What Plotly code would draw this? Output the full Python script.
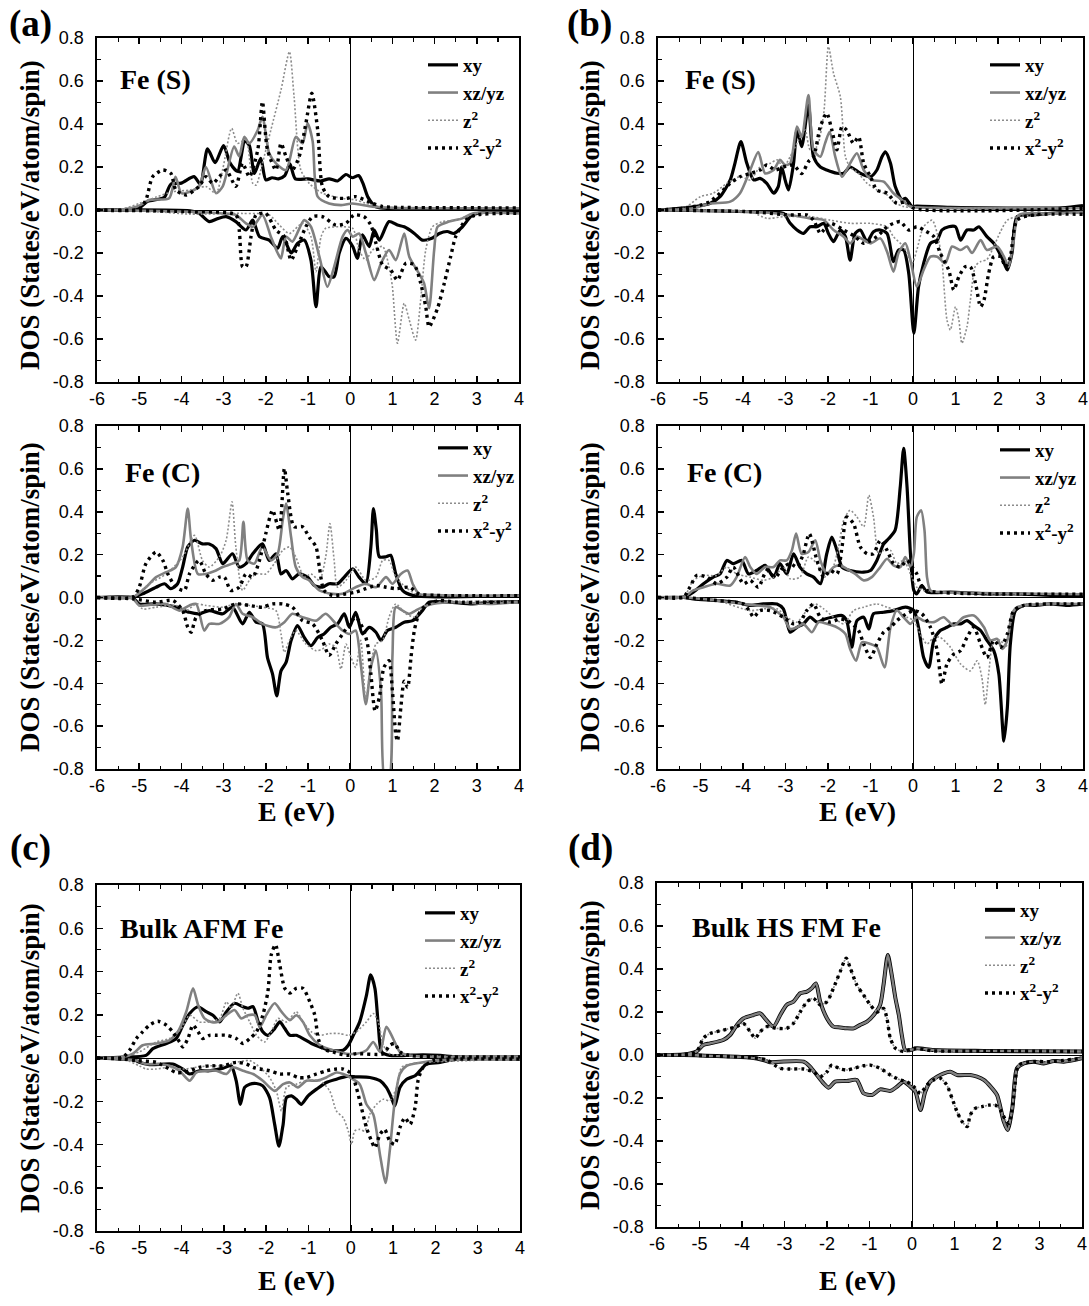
import plotly.graph_objects as go

W, H = 1089, 1306

# ---------------- tick labels / texts ----------------
x_tickvals = [-6, -5, -4, -3, -2, -1, 0, 1, 2, 3, 4]
x_ticktext = ['-6', '-5', '-4', '-3', '-2', '-1', '0', '1', '2', '3', '4']
y_tickvals = [-0.8, -0.6, -0.4, -0.2, 0.0, 0.2, 0.4, 0.6, 0.8]
y_ticktext = ['-0.8', '-0.6', '-0.4', '-0.2', '0.0', '0.2', '0.4', '0.6', '0.8']

orbital_names = ['<b>xy</b>', '<b>xz/yz</b>', '<b>z<sup>2</sup></b>', '<b>x<sup>2</sup>-y<sup>2</sup></b>']
panel_titles = ['Fe (S)', 'Fe (S)', 'Fe (C)', 'Fe (C)', 'Bulk AFM Fe', 'Bulk HS FM Fe']
panel_letters = ['(a)', '(b)', '(c)', '(d)']
y_title = 'DOS (States/eV/atom/spin)'
x_title = 'E (eV)'

# ---------------- data: (E [eV], DOS) ----------------
# Panel (a) top: Fe (S)
A_up_xy = [(-6,0),(-5.2,0.002),(-5.0,0.01),(-4.8,0.04),(-4.55,0.05),(-4.4,0.06),(-4.25,0.12),(-4.0,0.125),(-3.7,0.155),(-3.55,0.12),(-3.38,0.285),(-3.2,0.22),(-3.0,0.3),(-2.85,0.22),(-2.67,0.18),(-2.5,0.32),(-2.39,0.3),(-2.27,0.17),(-2.12,0.24),(-2.0,0.14),(-1.85,0.15),(-1.7,0.145),(-1.55,0.16),(-1.43,0.215),(-1.3,0.145),(-1.0,0.145),(-0.7,0.135),(-0.5,0.145),(-0.3,0.135),(-0.1,0.165),(0.05,0.15),(0.2,0.16),(0.3,0.125),(0.42,0.06),(0.6,0.016),(0.8,0.008),(1.5,0.005),(4,0.005)]
A_up_xzyz = [(-6,0),(-5.4,0.002),(-5.0,0.02),(-4.76,0.047),(-4.29,0.055),(-4.14,0.155),(-4.0,0.078),(-3.8,0.085),(-3.58,0.11),(-3.42,0.2),(-3.18,0.078),(-3.02,0.11),(-2.75,0.295),(-2.63,0.25),(-2.51,0.34),(-2.39,0.31),(-2.19,0.372),(-2.08,0.434),(-1.92,0.264),(-1.76,0.217),(-1.52,0.186),(-1.29,0.34),(-1.13,0.31),(-1.01,0.403),(-0.89,0.32),(-0.77,0.062),(-0.5,0.03),(-0.18,0.023),(0.05,0.03),(0.53,0.015),(1.0,0.01),(4,0.008)]
A_up_z2 = [(-6,0),(-5.4,0.005),(-5.0,0.03),(-4.6,0.06),(-4.2,0.085),(-3.8,0.093),(-3.42,0.109),(-3.18,0.078),(-3.02,0.19),(-2.81,0.38),(-2.67,0.31),(-2.47,0.326),(-2.31,0.124),(-2.23,0.116),(-2.08,0.217),(-1.88,0.372),(-1.64,0.558),(-1.44,0.736),(-1.33,0.527),(-1.17,0.186),(-0.97,0.124),(-0.66,0.078),(-0.18,0.054),(0.13,0.047),(0.37,0.031),(0.69,0.016),(1.2,0.01),(4,0.008)]
A_up_x2y2 = [(-6,0),(-5.0,0.005),(-4.84,0.047),(-4.68,0.155),(-4.44,0.186),(-4.25,0.17),(-4.13,0.093),(-3.89,0.07),(-3.58,0.11),(-3.42,0.155),(-3.26,0.124),(-3.1,0.155),(-2.94,0.186),(-2.71,0.11),(-2.55,0.217),(-2.39,0.155),(-2.19,0.28),(-2.08,0.504),(-1.96,0.28),(-1.76,0.186),(-1.64,0.31),(-1.52,0.248),(-1.37,0.186),(-1.21,0.248),(-1.05,0.403),(-0.91,0.543),(-0.77,0.372),(-0.66,0.11),(-0.5,0.062),(-0.1,0.054),(0.13,0.062),(0.53,0.031),(0.77,0.016),(1.2,0.012),(4,0.01)]
A_dn_xy = [(-6,0),(-3.8,-0.004),(-3.58,-0.015),(-3.34,-0.054),(-3.14,-0.04),(-2.94,-0.031),(-2.71,-0.054),(-2.47,-0.093),(-2.31,-0.047),(-2.15,-0.124),(-1.92,-0.14),(-1.72,-0.178),(-1.6,-0.124),(-1.4,-0.2),(-1.25,-0.155),(-1.09,-0.14),(-0.93,-0.233),(-0.81,-0.45),(-0.69,-0.264),(-0.5,-0.31),(-0.38,-0.31),(-0.26,-0.2),(-0.1,-0.132),(0.06,-0.17),(0.17,-0.225),(0.29,-0.116),(0.45,-0.17),(0.57,-0.093),(0.69,-0.14),(0.92,-0.054),(1.12,-0.07),(1.28,-0.078),(1.52,-0.109),(1.71,-0.14),(1.95,-0.13),(2.11,-0.109),(2.3,-0.1),(2.46,-0.109),(2.66,-0.078),(2.9,-0.023),(3.3,-0.008),(4,-0.008)]
A_dn_xzyz = [(-6,0),(-3.8,-0.008),(-3.02,-0.016),(-2.71,-0.023),(-2.47,-0.062),(-2.31,-0.078),(-2.08,-0.023),(-1.88,-0.124),(-1.72,-0.2),(-1.64,-0.225),(-1.52,-0.124),(-1.37,-0.147),(-1.09,-0.047),(-0.93,-0.078),(-0.73,-0.217),(-0.54,-0.357),(-0.38,-0.264),(-0.18,-0.124),(-0.06,-0.093),(0.06,-0.124),(0.21,-0.109),(0.37,-0.2),(0.57,-0.326),(0.73,-0.248),(0.92,-0.186),(1.08,-0.233),(1.28,-0.109),(1.4,-0.217),(1.63,-0.295),(1.75,-0.34),(1.87,-0.457),(1.99,-0.186),(2.07,-0.078),(2.34,-0.054),(2.66,-0.039),(2.9,-0.016),(4,-0.016)]
A_dn_z2 = [(-6,0),(-4.6,-0.008),(-3.8,-0.019),(-2.55,-0.016),(-1.92,-0.023),(-1.68,-0.07),(-1.44,-0.109),(-1.13,-0.062),(-0.93,-0.124),(-0.81,-0.287),(-0.69,-0.124),(-0.58,-0.085),(-0.18,-0.078),(0.06,-0.085),(0.21,-0.186),(0.37,-0.233),(0.53,-0.186),(0.77,-0.17),(0.92,-0.264),(1.0,-0.357),(1.12,-0.62),(1.28,-0.434),(1.4,-0.512),(1.55,-0.605),(1.67,-0.419),(1.79,-0.186),(1.95,-0.078),(2.19,-0.054),(2.5,-0.047),(2.98,-0.016),(4,-0.015)]
A_dn_x2y2 = [(-6,0),(-3.8,-0.008),(-2.71,-0.023),(-2.63,-0.093),(-2.55,-0.264),(-2.47,-0.264),(-2.35,-0.124),(-2.23,-0.023),(-2.0,-0.016),(-1.76,-0.093),(-1.56,-0.124),(-1.4,-0.233),(-1.25,-0.171),(-1.05,-0.078),(-0.89,-0.031),(-0.66,-0.031),(-0.34,-0.07),(-0.1,-0.062),(0.09,-0.023),(0.33,-0.031),(0.49,-0.07),(0.61,-0.155),(0.77,-0.256),(0.96,-0.279),(1.12,-0.326),(1.32,-0.248),(1.52,-0.256),(1.67,-0.34),(1.79,-0.45),(1.87,-0.543),(2.07,-0.457),(2.23,-0.34),(2.38,-0.217),(2.5,-0.124),(2.74,-0.047),(2.98,-0.023),(3.53,-0.016),(4,-0.015)]

# Panel (b) top: Fe (S)
B_up_xy = [(-6,0),(-5.17,0.015),(-4.78,0.03),(-4.54,0.062),(-4.3,0.14),(-4.19,0.217),(-4.05,0.318),(-3.91,0.217),(-3.75,0.14),(-3.6,0.147),(-3.44,0.124),(-3.28,0.078),(-3.17,0.109),(-3.09,0.2),(-3.01,0.14),(-2.93,0.093),(-2.81,0.217),(-2.73,0.372),(-2.62,0.295),(-2.46,0.488),(-2.34,0.248),(-2.18,0.2),(-2.03,0.186),(-1.79,0.171),(-1.63,0.171),(-1.48,0.2),(-1.24,0.171),(-1.0,0.155),(-0.85,0.186),(-0.73,0.248),(-0.65,0.27),(-0.53,0.217),(-0.42,0.11),(-0.26,0.047),(-0.18,0.054),(-0.02,0.016),(0.09,0.018),(0.88,0.012),(3.5,0.01),(4,0.02)]
B_up_xzyz = [(-6,0),(-5.17,0.008),(-4.78,0.03),(-4.3,0.039),(-4.07,0.078),(-3.83,0.186),(-3.64,0.27),(-3.48,0.17),(-3.28,0.186),(-3.13,0.233),(-3.01,0.209),(-2.89,0.217),(-2.73,0.388),(-2.62,0.34),(-2.46,0.535),(-2.34,0.28),(-2.18,0.248),(-2.07,0.31),(-1.96,0.364),(-1.83,0.248),(-1.67,0.155),(-1.48,0.217),(-1.32,0.264),(-1.16,0.186),(-0.97,0.14),(-0.69,0.132),(-0.46,0.078),(-0.26,0.047),(-0.06,0.016),(0.5,0.01),(4,0.008)]
B_up_z2 = [(-6,0),(-5.4,0.008),(-5.0,0.062),(-4.7,0.078),(-4.38,0.124),(-4.07,0.155),(-3.83,0.14),(-3.6,0.2),(-3.36,0.217),(-3.2,0.233),(-3.05,0.2),(-2.89,0.248),(-2.69,0.326),(-2.54,0.372),(-2.42,0.28),(-2.26,0.295),(-2.1,0.45),(-1.99,0.76),(-1.87,0.636),(-1.71,0.527),(-1.59,0.248),(-1.48,0.2),(-1.28,0.17),(-1.08,0.124),(-0.85,0.093),(-0.61,0.07),(-0.46,0.039),(-0.22,0.016),(0.3,0.01),(4,0.008)]
B_up_x2y2 = [(-6,0),(-5.4,0.008),(-5.0,0.023),(-4.78,0.039),(-4.54,0.078),(-4.3,0.124),(-4.07,0.155),(-3.83,0.17),(-3.6,0.186),(-3.44,0.209),(-3.24,0.186),(-3.05,0.2),(-2.81,0.209),(-2.62,0.17),(-2.46,0.225),(-2.34,0.248),(-2.18,0.388),(-2.03,0.45),(-1.91,0.372),(-1.79,0.28),(-1.67,0.388),(-1.56,0.372),(-1.4,0.31),(-1.28,0.34),(-1.16,0.217),(-1.0,0.155),(-0.85,0.093),(-0.61,0.078),(-0.38,0.031),(-0.14,0.039),(0.02,0.008),(4,0.008)]
B_dn_xy = [(-6,0),(-3.83,-0.008),(-3.05,-0.016),(-2.89,-0.062),(-2.73,-0.093),(-2.58,-0.109),(-2.42,-0.078),(-2.26,-0.078),(-2.1,-0.062),(-1.99,-0.109),(-1.87,-0.147),(-1.71,-0.093),(-1.59,-0.124),(-1.48,-0.233),(-1.36,-0.109),(-1.24,-0.093),(-1.08,-0.147),(-0.93,-0.101),(-0.77,-0.093),(-0.61,-0.109),(-0.46,-0.24),(-0.34,-0.186),(-0.22,-0.186),(-0.1,-0.295),(0.02,-0.574),(0.13,-0.357),(0.25,-0.248),(0.41,-0.155),(0.57,-0.14),(0.68,-0.093),(0.84,-0.078),(1.0,-0.078),(1.12,-0.14),(1.27,-0.093),(1.43,-0.093),(1.55,-0.078),(1.74,-0.124),(1.9,-0.155),(2.1,-0.225),(2.22,-0.279),(2.33,-0.2),(2.45,-0.031),(2.84,-0.023),(3.24,-0.016),(4,-0.008)]
B_dn_xzyz = [(-6,0),(-3.83,-0.008),(-3.2,-0.016),(-2.89,-0.023),(-2.42,-0.039),(-2.1,-0.047),(-1.87,-0.093),(-1.63,-0.124),(-1.48,-0.155),(-1.32,-0.124),(-1.0,-0.155),(-0.77,-0.132),(-0.61,-0.194),(-0.46,-0.287),(-0.34,-0.2),(-0.18,-0.155),(-0.06,-0.233),(0.09,-0.357),(0.25,-0.279),(0.41,-0.217),(0.57,-0.217),(0.76,-0.248),(0.92,-0.17),(1.12,-0.186),(1.27,-0.17),(1.39,-0.2),(1.59,-0.14),(1.74,-0.186),(1.98,-0.17),(2.14,-0.217),(2.25,-0.264),(2.37,-0.14),(2.49,-0.023),(3.24,-0.016),(4,-0.01)]
B_dn_z2 = [(-6,0),(-3.83,-0.008),(-3.44,-0.039),(-3.05,-0.031),(-2.42,-0.031),(-1.95,-0.047),(-1.48,-0.062),(-1.0,-0.062),(-0.61,-0.078),(-0.46,-0.124),(-0.22,-0.171),(-0.02,-0.248),(0.09,-0.186),(0.25,-0.078),(0.45,-0.047),(0.57,-0.109),(0.68,-0.233),(0.8,-0.512),(0.88,-0.558),(1.0,-0.45),(1.08,-0.512),(1.15,-0.62),(1.27,-0.543),(1.35,-0.419),(1.47,-0.26),(1.59,-0.24),(1.74,-0.23),(1.9,-0.17),(2.06,-0.1),(2.22,-0.047),(2.45,-0.031),(4,-0.015)]
B_dn_x2y2 = [(-6,0),(-3.83,-0.008),(-2.89,-0.023),(-2.5,-0.023),(-2.34,-0.047),(-2.18,-0.109),(-2.1,-0.093),(-1.95,-0.062),(-1.63,-0.093),(-1.36,-0.124),(-1.16,-0.155),(-0.85,-0.124),(-0.61,-0.078),(-0.46,-0.062),(-0.3,-0.054),(-0.1,-0.093),(0.09,-0.078),(0.25,-0.093),(0.49,-0.124),(0.64,-0.2),(0.84,-0.279),(0.96,-0.372),(1.08,-0.31),(1.23,-0.264),(1.35,-0.264),(1.47,-0.34),(1.59,-0.45),(1.67,-0.419),(1.78,-0.295),(1.9,-0.217),(2.06,-0.217),(2.18,-0.264),(2.29,-0.217),(2.45,-0.047),(2.84,-0.023),(4,-0.02)]

# Panel (a) middle: Fe (C)
C_up_xy = [(-6,0),(-5.15,0.002),(-4.92,0.017),(-4.6,0.048),(-4.4,0.064),(-4.25,0.041),(-4.09,0.064),(-3.97,0.142),(-3.85,0.236),(-3.69,0.267),(-3.5,0.25),(-3.34,0.25),(-3.18,0.228),(-3.02,0.158),(-2.79,0.204),(-2.63,0.142),(-2.47,0.158),(-2.31,0.204),(-2.08,0.25),(-1.92,0.173),(-1.76,0.204),(-1.64,0.11),(-1.52,0.126),(-1.37,0.087),(-1.21,0.11),(-1.01,0.095),(-0.85,0.056),(-0.66,0.048),(-0.5,0.064),(-0.3,0.064),(-0.14,0.095),(0.06,0.134),(0.21,0.095),(0.37,0.064),(0.49,0.236),(0.55,0.415),(0.62,0.314),(0.69,0.19),(0.85,0.19),(0.96,0.197),(1.08,0.11),(1.24,0.033),(1.48,0.01),(4,0.008)]
C_up_xzyz = [(-6,0),(-5.15,0.002),(-4.84,0.048),(-4.6,0.095),(-4.36,0.118),(-4.13,0.142),(-3.97,0.236),(-3.85,0.415),(-3.77,0.267),(-3.61,0.11),(-3.42,0.11),(-3.18,0.126),(-3.02,0.142),(-2.79,0.158),(-2.63,0.173),(-2.53,0.353),(-2.43,0.173),(-2.27,0.158),(-2.08,0.236),(-1.88,0.173),(-1.72,0.204),(-1.6,0.36),(-1.52,0.438),(-1.4,0.281),(-1.29,0.142),(-1.13,0.095),(-0.97,0.08),(-0.73,0.033),(-0.42,0.017),(-0.18,0.017),(0.13,0.048),(0.37,0.064),(0.61,0.048),(0.85,0.095),(1.0,0.064),(1.2,0.11),(1.36,0.126),(1.48,0.064),(1.63,0.017),(2.0,0.012),(4,0.008)]
C_up_z2 = [(-6,0),(-5.15,0.002),(-4.76,0.064),(-4.36,0.11),(-3.97,0.189),(-3.69,0.29),(-3.5,0.173),(-3.34,0.142),(-3.1,0.189),(-2.94,0.267),(-2.8,0.446),(-2.71,0.236),(-2.55,0.033),(-2.39,0.08),(-2.23,0.11),(-2.0,0.11),(-1.8,0.158),(-1.6,0.22),(-1.44,0.236),(-1.29,0.189),(-1.09,0.095),(-0.93,0.11),(-0.73,0.08),(-0.58,0.189),(-0.48,0.345),(-0.38,0.173),(-0.3,0.048),(-0.1,0.08),(0.13,0.142),(0.37,0.08),(0.61,0.095),(0.77,0.173),(0.92,0.173),(1.08,0.095),(1.32,0.048),(1.55,0.017),(2,0.01),(4,0.008)]
C_up_x2y2 = [(-6,0),(-5.15,0.002),(-5.0,0.048),(-4.84,0.158),(-4.6,0.212),(-4.44,0.173),(-4.32,0.11),(-4.13,0.048),(-3.93,0.033),(-3.81,0.11),(-3.58,0.173),(-3.42,0.11),(-3.26,0.08),(-3.1,0.095),(-2.98,0.095),(-2.83,0.033),(-2.63,0.048),(-2.47,0.11),(-2.31,0.095),(-2.15,0.173),(-2.0,0.298),(-1.84,0.407),(-1.68,0.314),(-1.56,0.602),(-1.48,0.485),(-1.33,0.33),(-1.13,0.33),(-0.97,0.281),(-0.81,0.236),(-0.73,0.142),(-0.62,0.033),(-0.42,0.01),(-0.1,0.017),(0.13,0.025),(0.37,0.041),(0.61,0.056),(0.85,0.048),(1.08,0.041),(1.4,0.048),(1.63,0.017),(2,0.01),(4,0.008)]
C_dn_xy = [(-6,0),(-5.15,-0.002),(-5.0,-0.03),(-4.6,-0.03),(-4.13,-0.045),(-3.81,-0.069),(-3.58,-0.076),(-3.34,-0.061),(-3.02,-0.076),(-2.79,-0.045),(-2.55,-0.123),(-2.39,-0.069),(-2.23,-0.115),(-2.08,-0.123),(-1.96,-0.28),(-1.84,-0.357),(-1.74,-0.459),(-1.64,-0.342),(-1.52,-0.303),(-1.4,-0.2),(-1.25,-0.131),(-1.09,-0.186),(-0.93,-0.225),(-0.77,-0.186),(-0.62,-0.17),(-0.46,-0.139),(-0.3,-0.123),(-0.14,-0.076),(-0.02,-0.139),(0.13,-0.069),(0.29,-0.17),(0.45,-0.139),(0.61,-0.162),(0.73,-0.2),(0.88,-0.154),(1.08,-0.139),(1.28,-0.115),(1.48,-0.108),(1.71,-0.061),(1.87,-0.022),(2.34,-0.022),(2.9,-0.03),(3.29,-0.022),(4,-0.02)]
C_dn_xzyz = [(-6,0),(-5.15,-0.006),(-5.0,-0.037),(-4.6,-0.03),(-4.36,-0.03),(-4.05,-0.061),(-3.81,-0.037),(-3.65,-0.03),(-3.46,-0.154),(-3.34,-0.123),(-3.1,-0.123),(-2.87,-0.092),(-2.71,-0.03),(-2.55,-0.076),(-2.31,-0.092),(-2.08,-0.123),(-1.76,-0.139),(-1.56,-0.115),(-1.37,-0.076),(-1.13,-0.092),(-0.81,-0.108),(-0.58,-0.076),(-0.34,-0.123),(-0.18,-0.154),(-0.02,-0.17),(0.13,-0.154),(0.25,-0.31),(0.37,-0.498),(0.49,-0.326),(0.61,-0.248),(0.73,-0.435),(0.82,-0.85),(0.92,-0.85),(1.0,-0.28),(1.08,-0.045),(1.24,-0.061),(1.4,-0.076),(1.55,-0.061),(1.71,-0.045),(1.95,-0.03),(2.5,-0.022),(3.29,-0.03),(4,-0.02)]
C_dn_z2 = [(-6,0),(-5.15,-0.006),(-4.92,-0.053),(-4.6,-0.045),(-4.13,-0.037),(-3.89,-0.061),(-3.65,-0.03),(-3.42,-0.037),(-3.02,-0.045),(-2.71,-0.03),(-2.39,-0.037),(-2.08,-0.045),(-1.76,-0.061),(-1.64,-0.17),(-1.56,-0.256),(-1.44,-0.2),(-1.29,-0.154),(-1.05,-0.217),(-0.81,-0.248),(-0.66,-0.24),(-0.5,-0.217),(-0.34,-0.232),(-0.22,-0.334),(-0.1,-0.217),(0.02,-0.28),(0.13,-0.326),(0.25,-0.2),(0.37,-0.48),(0.49,-0.31),(0.61,-0.217),(0.77,-0.2),(0.92,-0.092),(1.08,-0.03),(1.32,-0.076),(1.55,-0.092),(1.71,-0.045),(2.1,-0.022),(4,-0.02)]
C_dn_x2y2 = [(-6,0),(-5.15,-0.006),(-4.6,-0.022),(-4.2,-0.014),(-3.97,-0.061),(-3.85,-0.139),(-3.77,-0.162),(-3.65,-0.092),(-3.42,-0.061),(-3.02,-0.053),(-2.71,-0.03),(-2.39,-0.037),(-2.08,-0.045),(-1.84,-0.03),(-1.6,-0.03),(-1.37,-0.045),(-1.13,-0.108),(-0.89,-0.123),(-0.66,-0.2),(-0.5,-0.27),(-0.34,-0.217),(-0.18,-0.17),(-0.02,-0.123),(0.13,-0.092),(0.29,-0.139),(0.41,-0.217),(0.49,-0.357),(0.59,-0.529),(0.69,-0.466),(0.8,-0.326),(0.92,-0.295),(1.0,-0.435),(1.08,-0.638),(1.12,-0.67),(1.2,-0.513),(1.28,-0.39),(1.36,-0.42),(1.44,-0.28),(1.52,-0.154),(1.63,-0.076),(1.79,-0.037),(2.1,-0.014),(2.5,-0.022),(3.29,-0.022),(4,-0.02)]

# Panel (b) middle: Fe (C)
D_up_xy = [(-6,0),(-5.4,0.002),(-5.17,0.025),(-4.93,0.064),(-4.7,0.095),(-4.54,0.11),(-4.38,0.173),(-4.23,0.158),(-4.03,0.173),(-3.87,0.11),(-3.68,0.126),(-3.48,0.15),(-3.28,0.095),(-3.13,0.158),(-2.97,0.11),(-2.81,0.204),(-2.66,0.142),(-2.5,0.11),(-2.34,0.095),(-2.18,0.064),(-2.03,0.204),(-1.91,0.282),(-1.79,0.22),(-1.67,0.142),(-1.48,0.126),(-1.16,0.118),(-1.0,0.126),(-0.85,0.173),(-0.69,0.25),(-0.57,0.275),(-0.42,0.314),(-0.3,0.516),(-0.22,0.696),(-0.14,0.516),(-0.06,0.204),(0.02,0.033),(0.09,0.017),(0.21,0.056),(0.33,0.025),(0.88,0.025),(1.67,0.017),(2.45,0.017),(3.24,0.01),(4,0.008)]
D_up_xzyz = [(-6,0),(-5.4,0.002),(-5.17,0.033),(-4.93,0.048),(-4.62,0.064),(-4.3,0.056),(-4.15,0.095),(-3.95,0.189),(-3.83,0.142),(-3.68,0.11),(-3.48,0.142),(-3.28,0.142),(-3.13,0.173),(-2.97,0.173),(-2.85,0.22),(-2.75,0.298),(-2.62,0.204),(-2.46,0.212),(-2.3,0.267),(-2.18,0.173),(-2.03,0.11),(-1.87,0.142),(-1.71,0.15),(-1.56,0.134),(-1.36,0.11),(-1.16,0.08),(-0.97,0.095),(-0.77,0.142),(-0.61,0.181),(-0.46,0.15),(-0.3,0.142),(-0.18,0.189),(-0.06,0.142),(0.02,0.204),(0.09,0.376),(0.19,0.407),(0.27,0.314),(0.33,0.095),(0.41,0.033),(0.64,0.025),(2.0,0.02),(4,0.015)]
D_up_z2 = [(-6,0),(-5.4,0.002),(-5.17,0.08),(-4.93,0.103),(-4.62,0.103),(-4.38,0.142),(-4.15,0.11),(-3.83,0.095),(-3.52,0.08),(-3.28,0.095),(-3.05,0.142),(-2.89,0.087),(-2.66,0.095),(-2.46,0.189),(-2.26,0.158),(-2.1,0.095),(-1.91,0.126),(-1.75,0.236),(-1.63,0.36),(-1.48,0.407),(-1.32,0.376),(-1.16,0.33),(-1.04,0.477),(-0.93,0.376),(-0.81,0.204),(-0.69,0.22),(-0.53,0.22),(-0.38,0.158),(-0.22,0.173),(-0.06,0.11),(0.09,0.048),(0.25,0.033),(1.0,0.02),(4,0.015)]
D_up_x2y2 = [(-6,0),(-5.4,0.002),(-5.25,0.048),(-5.09,0.103),(-4.85,0.095),(-4.62,0.064),(-4.38,0.095),(-4.23,0.142),(-3.99,0.064),(-3.83,0.08),(-3.64,0.048),(-3.44,0.126),(-3.24,0.095),(-3.05,0.142),(-2.89,0.158),(-2.73,0.142),(-2.58,0.204),(-2.44,0.298),(-2.26,0.173),(-2.1,0.095),(-1.95,0.126),(-1.79,0.11),(-1.67,0.236),(-1.56,0.376),(-1.4,0.345),(-1.24,0.236),(-1.08,0.204),(-0.93,0.204),(-0.77,0.267),(-0.61,0.22),(-0.46,0.158),(-0.3,0.142),(-0.14,0.173),(-0.02,0.142),(0.09,0.11),(0.17,0.064),(0.33,0.033),(1.0,0.02),(4,0.015)]
D_dn_xy = [(-6,0),(-5.4,0),(-5.17,-0.006),(-4.62,-0.014),(-4.15,-0.022),(-3.83,-0.037),(-3.52,-0.03),(-3.2,-0.03),(-3.05,-0.053),(-2.89,-0.162),(-2.73,-0.139),(-2.58,-0.123),(-2.42,-0.092),(-2.26,-0.115),(-2.07,-0.1),(-1.91,-0.092),(-1.67,-0.084),(-1.56,-0.108),(-1.44,-0.232),(-1.32,-0.108),(-1.16,-0.092),(-1.04,-0.147),(-0.93,-0.076),(-0.69,-0.069),(-0.46,-0.061),(-0.18,-0.045),(0.02,-0.061),(0.13,-0.139),(0.25,-0.28),(0.37,-0.326),(0.49,-0.2),(0.64,-0.154),(0.8,-0.139),(0.96,-0.123),(1.12,-0.123),(1.27,-0.108),(1.43,-0.131),(1.59,-0.154),(1.74,-0.2),(1.9,-0.248),(2.02,-0.357),(2.14,-0.67),(2.22,-0.513),(2.29,-0.217),(2.41,-0.061),(2.61,-0.037),(2.84,-0.037),(3.24,-0.03),(3.63,-0.037),(4,-0.03)]
D_dn_xzyz = [(-6,0),(-5.4,0),(-4.62,-0.014),(-3.99,-0.03),(-3.68,-0.037),(-3.36,-0.045),(-3.05,-0.092),(-2.89,-0.147),(-2.73,-0.139),(-2.58,-0.123),(-2.38,-0.162),(-2.22,-0.115),(-2.03,-0.123),(-1.79,-0.139),(-1.59,-0.17),(-1.48,-0.24),(-1.34,-0.295),(-1.2,-0.209),(-1.0,-0.217),(-0.85,-0.232),(-0.67,-0.326),(-0.53,-0.139),(-0.38,-0.061),(-0.22,-0.092),(-0.06,-0.123),(0.09,-0.092),(0.25,-0.108),(0.49,-0.115),(0.72,-0.092),(0.96,-0.131),(1.19,-0.092),(1.43,-0.084),(1.67,-0.139),(1.82,-0.2),(1.98,-0.193),(2.1,-0.24),(2.22,-0.2),(2.33,-0.076),(2.45,-0.045),(3.24,-0.03),(4,-0.03)]
D_dn_z2 = [(-6,0),(-5.4,0),(-4.62,-0.014),(-3.83,-0.061),(-3.52,-0.053),(-3.2,-0.053),(-2.97,-0.092),(-2.73,-0.115),(-2.5,-0.061),(-2.3,-0.03),(-2.1,-0.053),(-1.87,-0.092),(-1.63,-0.123),(-1.4,-0.061),(-1.16,-0.045),(-0.85,-0.03),(-0.61,-0.045),(-0.38,-0.061),(-0.14,-0.092),(0.02,-0.108),(0.17,-0.17),(0.33,-0.217),(0.49,-0.186),(0.64,-0.186),(0.88,-0.232),(1.12,-0.31),(1.35,-0.342),(1.51,-0.295),(1.62,-0.373),(1.7,-0.5),(1.78,-0.357),(1.9,-0.2),(2.06,-0.2),(2.18,-0.232),(2.29,-0.123),(2.45,-0.045),(4,-0.03)]
D_dn_x2y2 = [(-6,0),(-5.4,0),(-4.62,-0.014),(-3.99,-0.03),(-3.83,-0.069),(-3.75,-0.092),(-3.6,-0.061),(-3.36,-0.061),(-3.05,-0.092),(-2.81,-0.123),(-2.66,-0.115),(-2.5,-0.061),(-2.34,-0.03),(-2.18,-0.092),(-1.95,-0.115),(-1.71,-0.1),(-1.48,-0.115),(-1.28,-0.154),(-1.16,-0.217),(-1.0,-0.28),(-0.85,-0.217),(-0.69,-0.162),(-0.53,-0.139),(-0.38,-0.108),(-0.22,-0.084),(0.02,-0.061),(0.21,-0.076),(0.41,-0.139),(0.57,-0.248),(0.68,-0.404),(0.8,-0.31),(0.96,-0.264),(1.12,-0.248),(1.27,-0.186),(1.43,-0.139),(1.59,-0.217),(1.74,-0.28),(1.9,-0.2),(2.06,-0.232),(2.22,-0.17),(2.37,-0.061),(2.61,-0.037),(3.24,-0.03),(4,-0.03)]

# Panel (c): Bulk AFM Fe
E_up_xy = [(-6,0),(-5.39,0.004),(-4.84,0.012),(-4.68,0.043),(-4.36,0.067),(-4.13,0.09),(-3.97,0.152),(-3.81,0.206),(-3.61,0.237),(-3.42,0.214),(-3.26,0.198),(-3.1,0.167),(-2.94,0.214),(-2.75,0.253),(-2.55,0.237),(-2.43,0.23),(-2.31,0.237),(-2.19,0.167),(-2.08,0.121),(-1.96,0.105),(-1.8,0.136),(-1.68,0.167),(-1.56,0.136),(-1.44,0.105),(-1.29,0.105),(-1.13,0.09),(-0.93,0.067),(-0.73,0.051),(-0.5,0.036),(-0.18,0.036),(-0.06,0.059),(0.06,0.105),(0.21,0.167),(0.37,0.29),(0.47,0.384),(0.57,0.322),(0.65,0.152),(0.73,0.028),(0.92,0.012),(1.71,0.015),(2.11,0.012),(2.5,0.005),(4,0.005)]
E_up_xzyz = [(-6,0),(-5.39,0.004),(-5.15,0.02),(-4.92,0.059),(-4.6,0.067),(-4.29,0.082),(-4.09,0.121),(-3.89,0.214),(-3.73,0.322),(-3.61,0.245),(-3.46,0.183),(-3.3,0.167),(-3.14,0.167),(-2.94,0.198),(-2.75,0.222),(-2.59,0.183),(-2.43,0.198),(-2.27,0.198),(-2.15,0.144),(-2.0,0.198),(-1.8,0.253),(-1.64,0.214),(-1.44,0.175),(-1.29,0.198),(-1.13,0.167),(-0.97,0.105),(-0.73,0.059),(-0.42,0.036),(-0.1,0.02),(0.13,0.02),(0.37,0.036),(0.53,0.074),(0.69,0.028),(0.84,0.144),(1.0,0.09),(1.16,0.028),(1.4,0.012),(4,0.005)]
E_up_z2 = [(-6,0),(-5.39,0.004),(-5.0,0.028),(-4.6,0.074),(-4.29,0.09),(-4.01,0.136),(-3.81,0.198),(-3.58,0.167),(-3.34,0.167),(-3.1,0.183),(-2.94,0.26),(-2.83,0.23),(-2.67,0.3),(-2.55,0.23),(-2.39,0.167),(-2.23,0.105),(-2.04,0.074),(-1.88,0.121),(-1.72,0.183),(-1.52,0.167),(-1.29,0.214),(-1.13,0.167),(-0.93,0.121),(-0.73,0.105),(-0.5,0.113),(-0.26,0.113),(-0.06,0.105),(0.13,0.121),(0.37,0.167),(0.53,0.206),(0.65,0.167),(0.77,0.059),(0.92,0.02),(1.32,0.012),(4,0.005)]
E_up_x2y2 = [(-6,0),(-5.39,0.004),(-5.23,0.036),(-5.07,0.09),(-4.92,0.121),(-4.76,0.152),(-4.56,0.17),(-4.36,0.152),(-4.21,0.121),(-4.05,0.074),(-3.97,0.051),(-3.85,0.09),(-3.73,0.152),(-3.61,0.121),(-3.5,0.09),(-3.34,0.105),(-3.18,0.105),(-2.94,0.105),(-2.71,0.09),(-2.55,0.067),(-2.39,0.09),(-2.23,0.121),(-2.08,0.198),(-1.96,0.307),(-1.88,0.478),(-1.78,0.524),(-1.68,0.431),(-1.56,0.322),(-1.44,0.3),(-1.29,0.322),(-1.13,0.322),(-0.97,0.26),(-0.85,0.198),(-0.77,0.09),(-0.66,0.043),(-0.42,0.028),(-0.1,0.012),(0.13,0.02),(0.77,0.02),(0.92,0.059),(1.04,0.067),(1.16,0.028),(1.4,0.012),(4,0.005)]
E_dn_xy = [(-6,0),(-5.39,-0.005),(-5.15,-0.005),(-5.0,-0.02),(-4.76,-0.031),(-4.21,-0.028),(-3.97,-0.051),(-3.81,-0.074),(-3.58,-0.059),(-3.34,-0.059),(-3.02,-0.047),(-2.83,-0.036),(-2.71,-0.105),(-2.61,-0.214),(-2.51,-0.136),(-2.39,-0.121),(-2.23,-0.118),(-2.08,-0.129),(-1.92,-0.183),(-1.8,-0.307),(-1.7,-0.408),(-1.6,-0.307),(-1.52,-0.183),(-1.4,-0.175),(-1.29,-0.191),(-1.17,-0.214),(-1.01,-0.175),(-0.81,-0.144),(-0.58,-0.113),(-0.34,-0.098),(-0.1,-0.085),(0.13,-0.087),(0.45,-0.09),(0.69,-0.105),(0.84,-0.136),(0.96,-0.183),(1.04,-0.222),(1.16,-0.136),(1.32,-0.098),(1.52,-0.082),(1.67,-0.051),(1.79,-0.028),(2.11,-0.02),(2.5,-0.005),(4,-0.005)]
E_dn_xzyz = [(-6,0),(-5.39,-0.005),(-5.07,-0.012),(-4.84,-0.028),(-4.6,-0.028),(-4.29,-0.036),(-4.05,-0.059),(-3.81,-0.105),(-3.65,-0.067),(-3.42,-0.059),(-3.18,-0.059),(-2.94,-0.074),(-2.79,-0.043),(-2.55,-0.059),(-2.31,-0.074),(-2.08,-0.105),(-1.8,-0.152),(-1.6,-0.121),(-1.44,-0.113),(-1.25,-0.136),(-1.05,-0.105),(-0.81,-0.105),(-0.58,-0.09),(-0.34,-0.067),(-0.18,-0.074),(-0.02,-0.09),(0.21,-0.121),(0.37,-0.214),(0.53,-0.26),(0.69,-0.447),(0.82,-0.578),(0.92,-0.431),(1.04,-0.198),(1.16,-0.074),(1.32,-0.036),(1.71,-0.02),(2.11,-0.01),(4,-0.005)]
E_dn_z2 = [(-6,0),(-5.39,-0.005),(-5.0,-0.036),(-4.84,-0.051),(-4.6,-0.051),(-4.29,-0.043),(-3.97,-0.051),(-3.65,-0.043),(-3.34,-0.036),(-3.02,-0.036),(-2.71,-0.02),(-2.39,-0.012),(-2.15,-0.043),(-1.92,-0.09),(-1.76,-0.152),(-1.64,-0.245),(-1.52,-0.136),(-1.29,-0.121),(-1.05,-0.105),(-0.73,-0.105),(-0.5,-0.152),(-0.34,-0.245),(-0.18,-0.276),(-0.06,-0.338),(0.02,-0.4),(0.09,-0.338),(0.21,-0.33),(0.33,-0.338),(0.45,-0.26),(0.61,-0.214),(0.77,-0.191),(0.92,-0.198),(1.08,-0.136),(1.2,-0.043),(1.4,-0.028),(1.71,-0.02),(4,-0.005)]
E_dn_x2y2 = [(-6,0),(-5.39,-0.005),(-5.07,-0.012),(-4.6,-0.02),(-4.29,-0.051),(-4.13,-0.067),(-3.97,-0.067),(-3.81,-0.059),(-3.58,-0.043),(-3.34,-0.036),(-3.02,-0.036),(-2.71,-0.02),(-2.47,-0.028),(-2.31,-0.043),(-2.15,-0.051),(-1.92,-0.059),(-1.68,-0.074),(-1.44,-0.074),(-1.25,-0.09),(-1.05,-0.09),(-0.81,-0.074),(-0.58,-0.059),(-0.34,-0.051),(-0.18,-0.051),(0.02,-0.074),(0.13,-0.136),(0.25,-0.229),(0.37,-0.322),(0.49,-0.384),(0.57,-0.415),(0.69,-0.353),(0.8,-0.33),(0.92,-0.384),(1.04,-0.4),(1.16,-0.322),(1.28,-0.276),(1.4,-0.307),(1.52,-0.229),(1.59,-0.105),(1.71,-0.043),(1.95,-0.012),(2.5,-0.005),(4,-0.005)]

# Panel (d): Bulk HS FM Fe  (xy and xz/yz coincide; z2 and x2-y2 coincide)
F_up_xy = [(-6,0),(-5.38,0.002),(-5.07,0.016),(-4.91,0.047),(-4.75,0.054),(-4.44,0.07),(-4.28,0.093),(-4.12,0.14),(-3.97,0.17),(-3.73,0.186),(-3.57,0.194),(-3.46,0.17),(-3.26,0.132),(-3.1,0.186),(-2.95,0.233),(-2.79,0.248),(-2.63,0.287),(-2.47,0.295),(-2.36,0.31),(-2.26,0.333),(-2.16,0.248),(-2.0,0.17),(-1.85,0.132),(-1.69,0.128),(-1.53,0.124),(-1.37,0.124),(-1.22,0.14),(-1.06,0.155),(-0.9,0.186),(-0.75,0.233),(-0.67,0.326),(-0.57,0.465),(-0.49,0.388),(-0.39,0.264),(-0.31,0.186),(-0.24,0.093),(-0.16,0.023),(-0.04,0.023),(0.12,0.031),(0.51,0.023),(1.69,0.019),(4,0.016)]
F_up_xzyz = list(F_up_xy)
F_up_z2 = [(-6,0),(-5.38,0.002),(-5.07,0.016),(-4.91,0.078),(-4.75,0.1),(-4.44,0.116),(-4.12,0.132),(-3.97,0.147),(-3.81,0.109),(-3.69,0.078),(-3.57,0.109),(-3.42,0.132),(-3.18,0.124),(-2.95,0.124),(-2.79,0.147),(-2.63,0.2),(-2.47,0.248),(-2.32,0.264),(-2.16,0.233),(-2.0,0.248),(-1.85,0.31),(-1.69,0.388),(-1.55,0.45),(-1.45,0.403),(-1.3,0.326),(-1.14,0.279),(-0.98,0.233),(-0.82,0.2),(-0.67,0.217),(-0.59,0.17),(-0.51,0.078),(-0.39,0.031),(-0.2,0.016),(0.04,0.031),(0.51,0.019),(1.69,0.019),(4,0.016)]
F_up_x2y2 = list(F_up_z2)
F_dn_xy = [(-6,0),(-5.38,0),(-4.6,-0.005),(-3.81,-0.012),(-3.5,-0.023),(-3.34,-0.034),(-3.1,-0.031),(-2.55,-0.031),(-2.4,-0.054),(-2.24,-0.093),(-2.08,-0.132),(-1.96,-0.152),(-1.81,-0.124),(-1.53,-0.121),(-1.3,-0.116),(-1.14,-0.178),(-0.94,-0.186),(-0.75,-0.16),(-0.51,-0.167),(-0.35,-0.147),(-0.2,-0.124),(-0.04,-0.147),(0.08,-0.171),(0.2,-0.256),(0.31,-0.171),(0.43,-0.124),(0.59,-0.101),(0.75,-0.085),(0.9,-0.078),(1.06,-0.093),(1.37,-0.093),(1.53,-0.101),(1.69,-0.116),(1.85,-0.147),(2.0,-0.186),(2.16,-0.31),(2.25,-0.349),(2.36,-0.248),(2.47,-0.062),(2.63,-0.039),(2.87,-0.031),(3.1,-0.039),(3.34,-0.028),(3.57,-0.031),(4,-0.015)]
F_dn_xzyz = list(F_dn_xy)
F_dn_z2 = [(-6,0),(-5.38,0),(-4.6,-0.005),(-3.81,-0.012),(-3.42,-0.023),(-3.1,-0.062),(-2.87,-0.065),(-2.55,-0.065),(-2.32,-0.078),(-2.16,-0.101),(-2.0,-0.078),(-1.89,-0.047),(-1.69,-0.065),(-1.53,-0.07),(-1.37,-0.062),(-1.14,-0.05),(-0.98,-0.047),(-0.75,-0.062),(-0.51,-0.093),(-0.28,-0.116),(-0.12,-0.124),(0.04,-0.147),(0.2,-0.178),(0.35,-0.14),(0.51,-0.116),(0.67,-0.109),(0.82,-0.14),(0.94,-0.2),(1.06,-0.264),(1.18,-0.31),(1.3,-0.333),(1.37,-0.279),(1.49,-0.248),(1.65,-0.24),(1.81,-0.233),(1.96,-0.233),(2.08,-0.256),(2.2,-0.302),(2.28,-0.318),(2.4,-0.186),(2.51,-0.047),(2.87,-0.031),(3.26,-0.031),(4,-0.015)]
F_dn_x2y2 = list(F_dn_z2)

panels = [
    ([A_up_xy, A_up_xzyz, A_up_z2, A_up_x2y2], [A_dn_xy, A_dn_xzyz, A_dn_z2, A_dn_x2y2]),
    ([B_up_xy, B_up_xzyz, B_up_z2, B_up_x2y2], [B_dn_xy, B_dn_xzyz, B_dn_z2, B_dn_x2y2]),
    ([C_up_xy, C_up_xzyz, C_up_z2, C_up_x2y2], [C_dn_xy, C_dn_xzyz, C_dn_z2, C_dn_x2y2]),
    ([D_up_xy, D_up_xzyz, D_up_z2, D_up_x2y2], [D_dn_xy, D_dn_xzyz, D_dn_z2, D_dn_x2y2]),
    ([E_up_xy, E_up_xzyz, E_up_z2, E_up_x2y2], [E_dn_xy, E_dn_xzyz, E_dn_z2, E_dn_x2y2]),
    ([F_up_xy, F_up_xzyz, F_up_z2, F_up_x2y2], [F_dn_xy, F_dn_xzyz, F_dn_z2, F_dn_x2y2]),
]

# ---------------- layout geometry (pixels) ----------------
boxes = [(97, 519, 38, 382), (658, 1083, 38, 382),
         (97, 519, 426, 769), (658, 1083, 426, 769),
         (97, 520, 885, 1231), (657, 1082, 883, 1227)]
legend_pos = [(423, 46), (985, 46), (433, 429), (995, 431), (420, 894), (980, 891)]
title_pos = [(118, 80), (683, 80), (123, 472), (685, 472), (118, 928), (690, 927)]
letter_pos = [(30, 24), (589, 24), (30, 848), (590, 848)]
ytitle_pos = [(30, 215), (590, 215), (30, 597), (590, 597), (30, 1058), (590, 1055)]
xtitle_pos = [(296, 811), (857, 811), (296, 1280), (857, 1280)]

SERIF = 'Liberation Serif'
SANS = 'Liberation Sans'

def fx(p):
    return p / W

def fy(p):
    return 1 - p / H

styles = [
    dict(color='black', width=3.2, dash='solid'),
    dict(color='#808080', width=2.6, dash='solid'),
    dict(color='#8c8c8c', width=1.6, dash='2px,2px'),
    dict(color='black', width=3.4, dash='3px,4px'),
]

fig = go.Figure()

for i, (ups, dns) in enumerate(panels):
    n = i + 1
    xa = 'x' if n == 1 else f'x{n}'
    ya = 'y' if n == 1 else f'y{n}'
    lg = 'legend' if n == 1 else f'legend{n}'
    for k in range(4):
        st = dict(styles[k])
        if n == 6 and k == 0:
            st['width'] = 4.0
        if n == 6 and k == 1:
            st['width'] = 2.4
        for s, curve in enumerate((ups[k], dns[k])):
            xs = [p[0] for p in curve]
            ys = [p[1] for p in curve]
            fig.add_trace(go.Scatter(
                x=xs, y=ys, mode='lines',
                line=dict(color=st['color'], width=st['width'], dash=st['dash'],
                          shape='spline', smoothing=0.7),
                name=orbital_names[k], legendgroup=f'{n}-{k}',
                showlegend=(s == 0), legend=lg,
                xaxis=xa, yaxis=ya, hoverinfo='skip'))

layout = dict(
    template='none',
    width=W, height=H,
    margin=dict(l=0, r=0, t=0, b=0, pad=0, autoexpand=False),
    paper_bgcolor='white', plot_bgcolor='white',
    showlegend=True,
)

for i, (x0, x1, y0, y1) in enumerate(boxes):
    n = i + 1
    xk = 'xaxis' if n == 1 else f'xaxis{n}'
    yk = 'yaxis' if n == 1 else f'yaxis{n}'
    layout[xk] = dict(
        domain=[fx(x0), fx(x1)], anchor='y' if n == 1 else f'y{n}',
        automargin=False,
        range=[-6, 4], tickmode='array', tickvals=x_tickvals, ticktext=x_ticktext,
        ticks='inside', ticklen=6, tickwidth=1.5, tickcolor='black',
        minor=dict(ticks='inside', ticklen=3.5, tickwidth=1.2, tickcolor='black',
                   tickmode='linear', tick0=-6, dtick=0.5, showgrid=False),
        showline=True, linewidth=1.6, linecolor='black', mirror='ticks',
        showgrid=False, zeroline=True, zerolinecolor='black', zerolinewidth=1,
        tickfont=dict(family=SANS, size=18, color='black'))
    layout[yk] = dict(
        domain=[fy(y1), fy(y0)], anchor='x' if n == 1 else f'x{n}',
        automargin=False,
        range=[-0.8, 0.8], tickmode='array', tickvals=y_tickvals, ticktext=y_ticktext,
        ticks='inside', ticklen=6, tickwidth=1.5, tickcolor='black',
        ticklabelstandoff=8,
        minor=dict(ticks='inside', ticklen=3.5, tickwidth=1.2, tickcolor='black',
                   tickmode='linear', tick0=0, dtick=0.1, showgrid=False),
        showline=True, linewidth=1.6, linecolor='black', mirror=True,
        showgrid=False, zeroline=True, zerolinecolor='black', zerolinewidth=1,
        tickfont=dict(family=SANS, size=18, color='black'))
    lk = 'legend' if n == 1 else f'legend{n}'
    lx, ly = legend_pos[i]
    layout[lk] = dict(
        x=fx(lx), y=fy(ly), xanchor='left', yanchor='top',
        bgcolor='rgba(0,0,0,0)', borderwidth=0,
        font=dict(family=SERIF, size=19, color='black'),
        tracegroupgap=0, itemwidth=30, traceorder='grouped')

anns = []
for i, t in enumerate(panel_titles):
    px, py = title_pos[i]
    anns.append(dict(text=f'<b>{t}</b>', x=fx(px), y=fy(py), xref='paper', yref='paper',
                     xanchor='left', yanchor='middle', showarrow=False,
                     font=dict(family=SERIF, size=28, color='black')))
for i, t in enumerate(panel_letters):
    px, py = letter_pos[i]
    anns.append(dict(text=f'<b>{t}</b>', x=fx(px), y=fy(py), xref='paper', yref='paper',
                     xanchor='center', yanchor='middle', showarrow=False,
                     font=dict(family=SERIF, size=37, color='black')))
for px, py in ytitle_pos:
    anns.append(dict(text=f'<b>{y_title}</b>', x=fx(px), y=fy(py), xref='paper', yref='paper',
                     xanchor='center', yanchor='middle', textangle=-90, showarrow=False,
                     font=dict(family=SERIF, size=27, color='black')))
for px, py in xtitle_pos:
    anns.append(dict(text=f'<b>{x_title}</b>', x=fx(px), y=fy(py), xref='paper', yref='paper',
                     xanchor='center', yanchor='middle', showarrow=False,
                     font=dict(family=SERIF, size=28, color='black')))
layout['annotations'] = anns

fig.update_layout(**layout)
fig.write_html('out.html',
               config={'displayModeBar': False, 'staticPlot': True},
               post_script="document.body.style.margin='0px';document.body.style.padding='0px';")
